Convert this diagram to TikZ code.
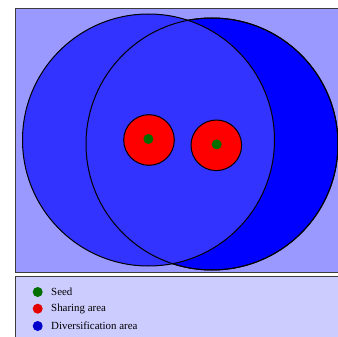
\documentclass[tikz,border=0pt]{standalone}
\usepackage{fontspec}
\setmainfont{Liberation Serif}
\definecolor{boxbg}{RGB}{153,153,255}
\definecolor{legbg}{RGB}{204,204,255}
\definecolor{lightblue}{RGB}{51,51,255}
\definecolor{darkblue}{RGB}{0,0,255}
\definecolor{seedgreen}{RGB}{0,110,0}
\definecolor{frame}{RGB}{60,60,60}
\tikzset{
  panel/.style={draw=frame, line width=0.9pt},
  bigc/.style={circle, draw=black, line width=1pt, inner sep=0pt, minimum size=252pt},
  share/.style={circle, draw=black, line width=1pt, fill=red, inner sep=0pt, minimum size=50.6pt},
  seed/.style={circle, fill=seedgreen, inner sep=0pt, minimum size=10pt},
  legdot/.style={circle, inner sep=0pt, minimum size=10pt},
  legtxt/.style={anchor=west, inner sep=0pt, font=\fontsize{10.9}{13}\selectfont}
}
\begin{document}
\begin{tikzpicture}[x=1pt,y=-1pt]
\useasboundingbox (0,0) rectangle (338,337);
\begin{scope}
\clip (0,0) rectangle (338,337);
\draw[panel, fill=boxbg] (15.5,8) rectangle (345,272);
\node[bigc, fill=darkblue] (divR) at (212,144) {};
\node[bigc, fill=lightblue] (divL) at (148.5,140) {};
\node[bigc] (divRo) at (212,144) {};
\node[share] (shL) at (149,140) {};
\node[share] (shR) at (216.3,145.3) {};
\node[seed] (sdL) at (148.4,139) {};
\node[seed] (sdR) at (216.7,144.4) {};
\draw[panel, fill=legbg] (15.5,276) rectangle (345,345);
\node[legdot, fill=seedgreen] (l1) at (37.7,292) {};
\node[legdot, fill=red!90!black] (l2) at (37.7,308.7) {};
\node[legdot, fill=blue!80!black] (l3) at (37.7,326) {};
\node[legtxt] (t1) at (51,292) {Seed};
\node[legtxt] (t2) at (51,308.7) {Sharing area};
\node[legtxt] (t3) at (51,326) {Diversification area};
\end{scope}
\end{tikzpicture}
\end{document}
